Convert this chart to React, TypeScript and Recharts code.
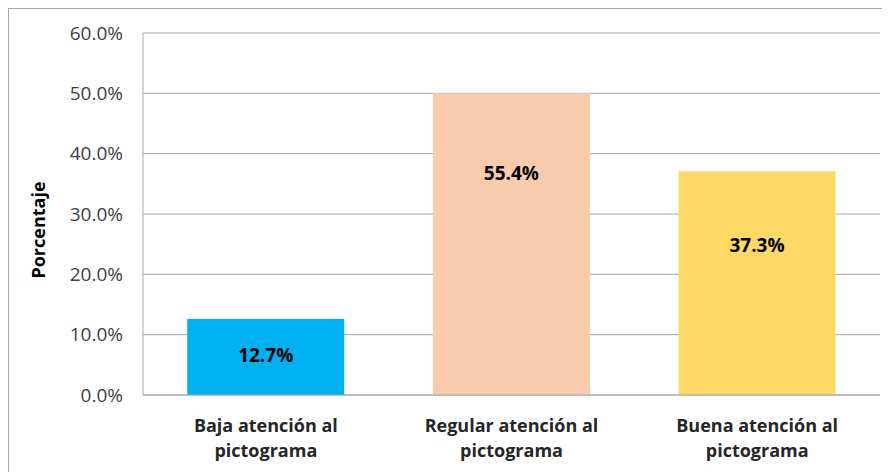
import { Bar, BarChart, CartesianGrid, Cell, LabelList, XAxis, YAxis } from "recharts";

const categories = [
  ["Baja atención al", "pictograma"],
  ["Regular atención al", "pictograma"],
  ["Buena atención al", "pictograma"],
];
// bar heights as drawn in the picture (the middle bar stops at 50%)
const barValues = [12.6, 50.0, 37.1];
const labelTexts = ["12.7%", "55.4%", "37.3%"];
const barColors = ["#00B0F0", "#F8CBAD", "#FFD966"];
const yTicks = [0, 10, 20, 30, 40, 50, 60];

// where the value label sits inside each bar, in axis units
const labelLevels = [6.7, 36.8, 24.9];

const FONT = "'Open Sans', 'Noto Sans', sans-serif";

const data = categories.map((c, i) => ({
  name: c.join(" "),
  value: barValues[i],
  text: labelTexts[i],
}));

function CategoryTick(props: any) {
  const { x, y, payload } = props;
  const lines = categories[payload.index] ?? [String(payload.value)];
  return (
    <g transform={`translate(${x},${y})`}>
      {lines.map((line, i) => (
        <text
          key={i}
          x={0}
          y={29 + i * 25}
          textAnchor="middle"
          fontFamily={FONT}
          fontSize={18}
          fontWeight={700}
          fill="#262626"
        >
          {line}
        </text>
      ))}
    </g>
  );
}

function ValueLabel(props: any) {
  const { x, y, width, height, index } = props;
  const v = barValues[index];
  const bottom = y + height;
  const ly = bottom - (height * labelLevels[index]) / v;
  return (
    <text
      x={x + width / 2}
      y={ly}
      textAnchor="middle"
      dominantBaseline="central"
      fontFamily={FONT}
      fontSize={19}
      fontWeight={700}
      fill="#000"
    >
      {labelTexts[index]}
    </text>
  );
}

function AxisTitle(props: any) {
  const { viewBox } = props;
  const cx = 29;
  const cy = viewBox.y + viewBox.height / 2 + 16;
  return (
    <text
      x={cx}
      y={cy}
      transform={`rotate(-90, ${cx}, ${cy})`}
      textAnchor="middle"
      dominantBaseline="central"
      fontFamily={FONT}
      fontSize={18}
      fontWeight={700}
      fill="#000"
    >
      Porcentaje
    </text>
  );
}

export default function App() {
  return (
    <div
      style={{
        width: 881,
        height: 463,
        borderLeft: "1px solid #a6a6a6",
        borderTop: "1px solid #a6a6a6",
        background: "#fff",
      }}
    >
      <BarChart
        width={881}
        height={463}
        data={data}
        margin={{ top: 24, right: 10, bottom: 7, left: 0 }}
        barCategoryGap="18%"
      >
        <CartesianGrid vertical={false} stroke="#a6a6a6" />
        <XAxis
          dataKey="name"
          height={70}
          axisLine={{ stroke: "#a6a6a6" }}
          tickLine={false}
          interval={0}
          tick={<CategoryTick />}
        />
        <YAxis
          width={134}
          domain={[0, 60]}
          ticks={yTicks}
          axisLine={{ stroke: "#a6a6a6" }}
          tickLine={false}
          tickSize={6}
          tickMargin={14}
          tickFormatter={(v) => `${Number(v).toFixed(1)}%`}
          tick={{ fontFamily: FONT, fontSize: 19, fill: "#404040" }}
          label={<AxisTitle />}
        />
        <Bar dataKey="value" isAnimationActive={false}>
          {data.map((_, i) => (
            <Cell key={i} fill={barColors[i]} />
          ))}
          <LabelList dataKey="text" content={<ValueLabel />} />
        </Bar>
      </BarChart>
    </div>
  );
}
